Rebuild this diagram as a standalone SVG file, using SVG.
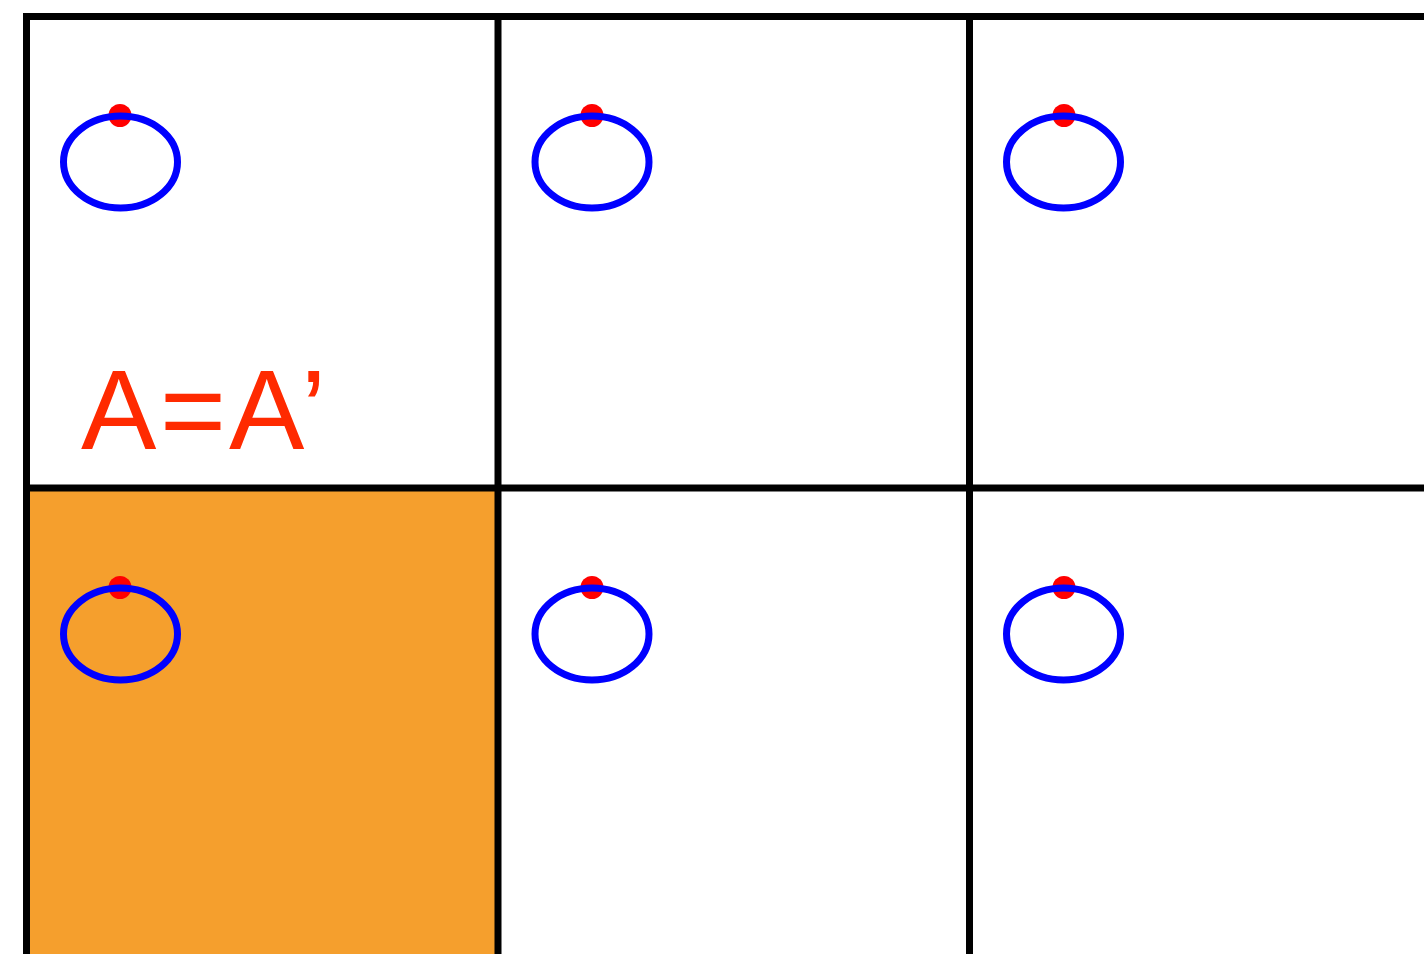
<svg xmlns="http://www.w3.org/2000/svg" width="1424" height="954" viewBox="0 0 1424 954">
<style>
.grid{stroke:#000;stroke-width:7;fill:none}
.ring{fill:none;stroke:#0000FF;stroke-width:7}
.dot{fill:#FF0000}
.lbl{font-family:"Liberation Sans",Arial,sans-serif;font-size:113px;fill:#FF2A00}
</style>
<rect width="1424" height="954" fill="#fff"/>
<rect id="shaded-cell" x="26.5" y="488" width="471.5" height="466" fill="#F59F2D"/>
<g id="grid">
<line class="grid" x1="23" y1="16.5" x2="1424" y2="16.5"/>
<line class="grid" x1="23" y1="488" x2="1424" y2="488"/>
<line class="grid" x1="26.5" y1="13" x2="26.5" y2="954"/>
<line class="grid" x1="498" y1="13" x2="498" y2="954"/>
<line class="grid" x1="969.5" y1="13" x2="969.5" y2="954"/>
</g>
<g id="node-r1c1"><circle class="dot" cx="120" cy="115.5" r="11.5"/><ellipse class="ring" cx="120.5" cy="162" rx="57" ry="46"/></g>
<g id="node-r1c2"><circle class="dot" cx="592" cy="115.5" r="11.5"/><ellipse class="ring" cx="592" cy="162" rx="57" ry="46"/></g>
<g id="node-r1c3"><circle class="dot" cx="1064" cy="115.5" r="11.5"/><ellipse class="ring" cx="1063.5" cy="162" rx="57" ry="46"/></g>
<g id="node-r2c1"><circle class="dot" cx="120" cy="587.5" r="11.5"/><ellipse class="ring" cx="120.5" cy="634" rx="57" ry="46"/></g>
<g id="node-r2c2"><circle class="dot" cx="592" cy="587.5" r="11.5"/><ellipse class="ring" cx="592" cy="634" rx="57" ry="46"/></g>
<g id="node-r2c3"><circle class="dot" cx="1064" cy="587.5" r="11.5"/><ellipse class="ring" cx="1063.5" cy="634" rx="57" ry="46"/></g>
<g id="label"><text class="lbl" x="81 160 229 301" y="449">A=A’</text></g>
</svg>
